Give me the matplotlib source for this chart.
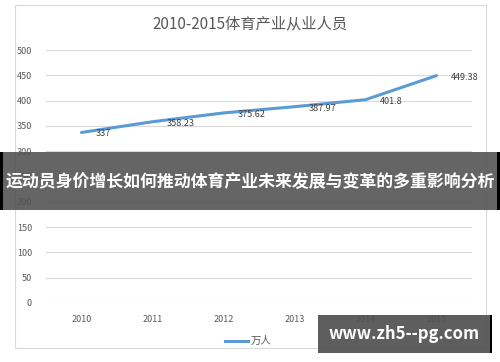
import matplotlib
matplotlib.use("Agg")
import matplotlib.pyplot as plt
from matplotlib.patches import Rectangle

plt.rcParams['font.family'] = ['Noto Sans CJK SC', 'DejaVu Sans']

years = ["2010", "2011", "2012", "2013", "2014", "2015"]
values = [337, 358.23, 375.62, 387.97, 401.8, 449.38]
labels = ["337", "358.23", "375.62", "387.97", "401.8", "449.38"]
yticks = [0, 50, 100, 150, 200, 250, 300, 350, 400, 450, 500]

fig = plt.figure(figsize=(5, 3.62), dpi=100)
W, H = 500, 362

# chart frame
fig.patches.append(Rectangle((15 / W, 1 - 348 / H), 471 / W, 343 / H,
                             transform=fig.transFigure, fill=False,
                             edgecolor="#d9d9d9", linewidth=0.8))

ax = fig.add_axes([46 / W, 1 - 303 / H, 426 / W, 253 / H])
x = list(range(len(years)))
ax.plot(x, values, color="#5b9bd5", linewidth=2.2, solid_capstyle="round")
for xi, v, lab in zip(x, values, labels):
    ax.annotate(lab, (xi, v), xytext=(10, -1), textcoords="offset points",
                ha="left", va="center", fontsize=6.5, color="#404040")

ax.set_xlim(-0.5, len(years) - 0.5)
ax.set_ylim(0, 500)
ax.set_yticks(yticks)
ax.set_xticks(x)
ax.set_xticklabels(years)
ax.grid(axis="y", color="#d9d9d9", linewidth=0.8)
ax.set_axisbelow(True)
for s in ax.spines.values():
    s.set_visible(False)
ax.tick_params(length=0, labelsize=6.5, labelcolor="#595959")
ax.tick_params(axis="y", pad=10)
ax.tick_params(axis="x", pad=9)

fig.text(0.5, 1 - 24 / H, "2010-2015体育产业从业人员", ha="center", va="center",
         fontsize=11, color="#595959")

# legend
fig.add_artist(plt.Line2D([225 / W, 248 / W], [1 - 341 / H, 1 - 341 / H],
                          color="#5b9bd5", linewidth=2.2))
fig.text(251 / W, 1 - 341 / H, "万人", ha="left", va="center",
         fontsize=7.5, color="#595959")

# overlay banner
fig.patches.append(Rectangle((0, 1 - 210 / H), 1, 58 / H, transform=fig.transFigure,
                             facecolor="#505050", alpha=0.88, edgecolor="none", zorder=5))
fig.patches.append(Rectangle((0, 1 - 210 / H), 3 / W, 58 / H, transform=fig.transFigure,
                             facecolor="black", edgecolor="none", zorder=6))
fig.patches.append(Rectangle((497 / W, 1 - 210 / H), 3 / W, 58 / H, transform=fig.transFigure,
                             facecolor="black", edgecolor="none", zorder=6))
fig.text(0.5, 1 - 182 / H, "运动员身价增长如何推动体育产业未来发展与变革的多重影响分析",
         ha="center", va="center", fontsize=12.2, color="white",
         fontweight="bold", zorder=7)

# watermark box
fig.patches.append(Rectangle((318 / W, 1 - 353 / H), 172 / W, 38 / H, transform=fig.transFigure,
                             facecolor="#505050", alpha=0.92, edgecolor="none", zorder=5))
fig.patches.append(Rectangle((490 / W, 1 - 353 / H), 2 / W, 38 / H, transform=fig.transFigure,
                             facecolor="black", edgecolor="none", zorder=6))
fig.text(404 / W, 1 - 334 / H, "www.zh5--pg.com", ha="center", va="center",
         fontsize=12, color="white", fontweight="bold", zorder=7)

fig.savefig("out.png", dpi=100)
